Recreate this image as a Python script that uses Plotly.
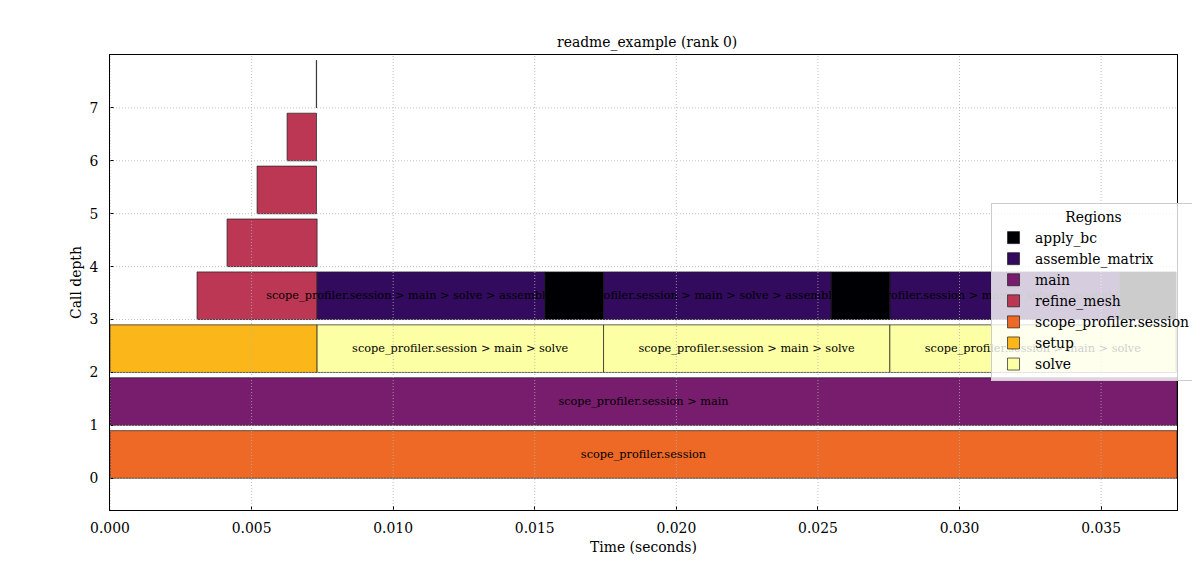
import plotly.graph_objects as go

# ---- data -------------------------------------------------------------
region_names = ["scope_profiler.session", "main", "setup", "solve", "solve", "solve",
                "refine_mesh", "refine_mesh", "refine_mesh", "refine_mesh", "refine_mesh",
                "assemble_matrix", "assemble_matrix", "assemble_matrix",
                "apply_bc", "apply_bc", "apply_bc"]
region_depth = [0, 1, 2, 2, 2, 2,
                3, 4, 5, 6, 7,
                3, 3, 3,
                3, 3, 3]
region_start = [0.0, 0.0, 0.0, 0.007314, 0.01743, 0.02754,
                0.003074, 0.004134, 0.005194, 0.006254, 0.007286,
                0.007314, 0.01743, 0.02754,
                0.01536, 0.025466, 0.03565]
region_end = [0.03768, 0.03768, 0.007314, 0.01743, 0.02754, 0.03765,
              0.007314, 0.007314, 0.007293, 0.007293, 0.007296,
              0.01536, 0.025466, 0.03565,
              0.01743, 0.02754, 0.03765]
region_label = ["scope_profiler.session", "scope_profiler.session > main", "",
                "scope_profiler.session > main > solve", "scope_profiler.session > main > solve",
                "scope_profiler.session > main > solve",
                "", "", "", "", "",
                "scope_profiler.session > main > solve > assemble_matrix",
                "scope_profiler.session > main > solve > assemble_matrix",
                "scope_profiler.session > main > solve > assemble_matrix",
                "", "", ""]

legend_order = ["apply_bc", "assemble_matrix", "main", "refine_mesh",
                "scope_profiler.session", "setup", "solve"]
draw_order = ["scope_profiler.session", "main", "setup", "solve",
              "refine_mesh", "assemble_matrix", "apply_bc"]
region_colors = {"apply_bc": "#000004", "assemble_matrix": "#320a5e", "main": "#781c6d",
                 "refine_mesh": "#bc3754", "scope_profiler.session": "#ed6925",
                 "setup": "#fbb61a", "solve": "#fcffa4"}

x_ticks = [0.0, 0.005, 0.010, 0.015, 0.020, 0.025, 0.030, 0.035]
y_ticks = [0, 1, 2, 3, 4, 5, 6, 7]
x_range = [0.0, 0.03768]
y_range = [-0.6, 8.0]
bar_height = 0.9

FONT = "DejaVu Serif"
FS = 13.9
FS_BAR = 11.3
W, H = 1192, 572   # page adds an 8px body margin

fig = go.Figure()
for name in draw_order:
    idx = [i for i, n in enumerate(region_names) if n == name]
    fig.add_trace(go.Bar(
        orientation="h",
        name=name,
        legendgroup=name,
        y=[region_depth[i] + bar_height / 2 for i in idx],
        x=[region_end[i] - region_start[i] for i in idx],
        base=[region_start[i] for i in idx],
        width=bar_height,
        text=[region_label[i] for i in idx],
        textposition="inside",
        insidetextanchor="middle",
        constraintext="none",
        textangle=0,
        insidetextfont=dict(family=FONT, size=FS_BAR, color="black"),
        marker=dict(color=region_colors[name],
                    line=dict(color="rgba(25,25,25,0.85)", width=0.8)),
        legendrank=legend_order.index(name) + 1,
        hoverinfo="name+x",
    ))

# grid lines drawn above the bars (as in the reference)
grid_line = dict(color="#b0b0b0", width=0.8, dash="1px,2px")
for t in x_ticks:
    fig.add_shape(type="line", xref="x", yref="paper", x0=t, x1=t, y0=0, y1=1,
                  layer="above", line=grid_line)
for t in y_ticks:
    fig.add_shape(type="line", xref="paper", yref="y", x0=0, x1=1, y0=t, y1=t,
                  layer="above", line=grid_line)

fig.update_layout(
    width=W, height=H,
    margin=dict(l=102, r=23, t=47, b=70, autoexpand=False),
    paper_bgcolor="white", plot_bgcolor="white",
    barmode="overlay",
    font=dict(family=FONT, size=FS, color="black"),
    title=dict(text="readme_example (rank 0)", x=0.5362, xanchor="center",
               y=1 - 34 / H, yanchor="middle", font=dict(family=FONT, size=FS)),
    showlegend=True,
    legend=dict(x=0.8257, y=0.6747, xanchor="left", yanchor="top",
                bgcolor="rgba(255,255,255,0.8)", bordercolor="#cccccc", borderwidth=1,
                font=dict(family=FONT, size=FS), itemwidth=33,
                title=dict(text="Regions", side="top center", font=dict(family=FONT, size=FS)),
                traceorder="grouped", tracegroupgap=0),
    xaxis=dict(range=x_range, tickvals=x_ticks, tickformat=".3f",
               showgrid=False, zeroline=False, automargin=False,
               showline=True, linecolor="black", linewidth=1, mirror=True,
               ticks="inside", ticklen=4, tickcolor="black", ticklabelstandoff=5,
               tickfont=dict(family=FONT, size=FS),
               title=dict(text="Time (seconds)", font=dict(family=FONT, size=FS), standoff=7)),
    yaxis=dict(range=y_range, tickvals=y_ticks,
               showgrid=False, zeroline=False, automargin=False,
               showline=True, linecolor="black", linewidth=1, mirror=True,
               ticks="inside", ticklen=4, tickcolor="black", ticklabelstandoff=8,
               tickfont=dict(family=FONT, size=FS),
               title=dict(text="Call depth", font=dict(family=FONT, size=FS), standoff=4)),
)

fig.write_html("out.html")
